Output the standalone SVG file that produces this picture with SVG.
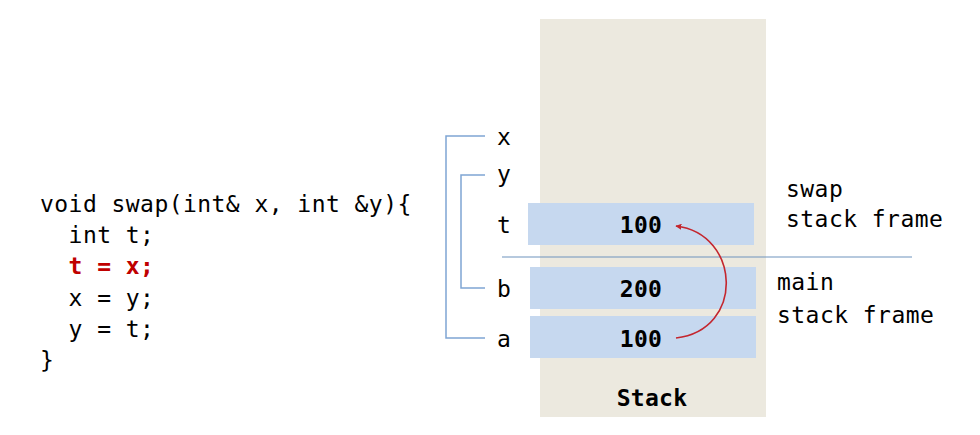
<svg xmlns="http://www.w3.org/2000/svg" width="980" height="435" viewBox="0 0 980 435">
<style>
.mono{font-family:"DejaVu Sans Mono","Liberation Mono",monospace;font-size:23px;fill:#000;}
.code{letter-spacing:0.45px;}
.red{fill:#c00000;font-weight:bold;}
.val{font-weight:bold;text-anchor:middle;letter-spacing:0.3px;}
.box{fill:#c6d8ef;}
.br{fill:none;stroke:#7fa5d4;stroke-width:1.5;}
</style>
<defs>
<marker id="ah" viewBox="0 0 10 10" refX="9" refY="5" markerWidth="6" markerHeight="6" orient="auto" markerUnits="userSpaceOnUse">
<path d="M0,0 L10,5 L0,10 z" fill="#c4262e"/>
</marker>
</defs>
<rect width="980" height="435" fill="#fff"/>
<g id="code">
<text class="mono code" x="40" y="212" xml:space="preserve">void swap(int&amp; x, int &amp;y){</text>
<text class="mono code" x="40" y="243" xml:space="preserve">  int t;</text>
<text class="mono code red" x="40" y="274" xml:space="preserve">  t = x;</text>
<text class="mono code" x="40" y="306" xml:space="preserve">  x = y;</text>
<text class="mono code" x="40" y="337" xml:space="preserve">  y = t;</text>
<text class="mono code" x="40" y="368" xml:space="preserve">}</text>
</g>
<g id="stack">
<rect x="540" y="19" width="226" height="398" fill="#ece9df"/>
<text class="mono val" x="652" y="406">Stack</text>
</g>
<g id="box-t">
<rect class="box" x="528" y="203" width="226" height="42"/>
<text class="mono val" x="641" y="233">100</text>
</g>
<g id="box-b">
<rect class="box" x="530" y="267" width="226" height="42"/>
<text class="mono val" x="641" y="297">200</text>
</g>
<g id="box-a">
<rect class="box" x="530" y="316" width="226" height="42"/>
<text class="mono val" x="641" y="347">100</text>
</g>
<g id="labels">
<text class="mono" x="497" y="145">x</text>
<text class="mono" x="497" y="182">y</text>
<text class="mono" x="497" y="233">t</text>
<text class="mono" x="497" y="297">b</text>
<text class="mono" x="497" y="347">a</text>
</g>
<g id="frame-labels">
<text class="mono code" x="786" y="197">swap</text>
<text class="mono code" x="786" y="227">stack frame</text>
<text class="mono code" x="777" y="290">main</text>
<text class="mono code" x="777" y="323">stack frame</text>
</g>
<g id="connectors">
<path class="br" d="M485,136 H446 V338 H485"/>
<path class="br" d="M485,175 H461 V288 H485"/>
<line x1="502" y1="257" x2="912" y2="257" stroke="#6f93bd" stroke-width="1.2"/>
<path d="M676,338 C745,330 741,234 676,226" fill="none" stroke="#c4262e" stroke-width="1.6" marker-end="url(#ah)"/>
</g>
</svg>
